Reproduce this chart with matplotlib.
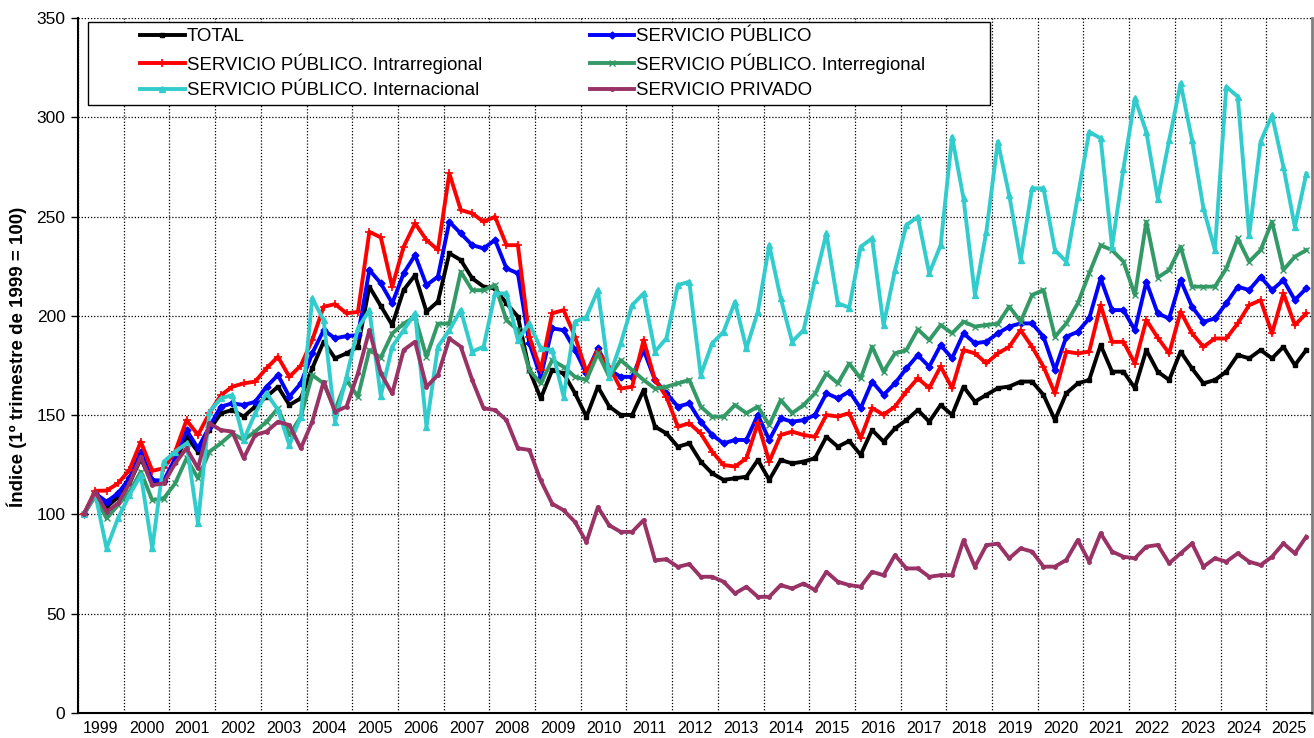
import matplotlib.pyplot as plt
import numpy as np
from matplotlib.patches import Rectangle

plt.rcParams['font.family'] = ['Liberation Sans', 'DejaVu Sans']

# quarterly index, 1999 Q1 .. 2025 Q4 (4 values per line = 1 year)
years = list(range(1999, 2026))

total = [
    100, 110, 103.7, 108.7,
    115.6, 128.2, 115.6, 116.4,
    126.5, 139.1, 131.6, 142.5,
    150.9, 152.6, 149.3, 154.3,
    159.3, 164.3, 155.1, 158.5,
    173.6, 187, 178.6, 181.1,
    184.5, 214.7, 205, 195.4,
    213, 220.5, 202.1, 207.2,
    231.5, 228.1, 218.9, 214.7,
    213.8, 206.3, 199.6, 172.7,
    158.4, 172.7, 171, 161,
    149.2, 164.3, 154.3, 150.1,
    150.1, 162.6, 144.2, 140.8,
    134.1, 135.8, 126.6, 120.7,
    117.4, 118.2, 119, 127.4,
    117.4, 127.4, 125.7, 126.6,
    128.3, 139.1, 134.1, 137,
    130, 142.5, 136.7, 143.3,
    147.5, 152.6, 146.7, 155.1,
    150.1, 164.3, 156.8, 160.2,
    163.6, 164.4, 166.9, 166.9,
    160.2, 147.6, 161, 166,
    167.7, 185.3, 171.9, 171.9,
    163.6, 182.8, 171.9, 167.7,
    182, 173.5, 166, 167.7,
    171.9, 180.3, 178.6, 182.8,
    178.6, 184.4, 175.2, 182.8,
]

publico = [
    100, 110.6, 106.4, 110.6,
    118.2, 131.6, 117.3, 117,
    128.2, 142.5, 133.3, 144.2,
    154.3, 155.9, 155.1, 156.7,
    164.3, 170.2, 159.3, 166,
    181.1, 192.8, 188.7, 189.8,
    190.3, 223.1, 216.4, 206.3,
    221.4, 230.6, 215.5, 219.7,
    247.4, 241.5, 235.6, 234,
    238.2, 223.9, 221.4, 186.2,
    169.3, 193.7, 192.8, 182.8,
    171, 183.6, 172.7, 169.3,
    169.3, 182.8, 167.7, 161,
    154.3, 155.9, 146.7, 140,
    135.8, 137.5, 137.5, 150.1,
    137.5, 148.4, 146.7, 147.5,
    150.1, 161, 158.5, 161.9,
    153.5, 166.9, 160.2, 166,
    173.5, 180.2, 174.4, 185.3,
    178.6, 191.2, 186.2, 187,
    191.2, 194.6, 196.2, 196.2,
    189.5, 172.8, 189.5, 192,
    198.7, 218.9, 202.9, 202.9,
    192.8, 217.1, 201.2, 198.7,
    218, 204.6, 197, 198.7,
    206.3, 214.7, 213, 219.7,
    213, 218, 208, 213.8,
]

intrarregional = [
    100, 111.9, 112, 115.6,
    122.4, 136.6, 122, 123.2,
    131.6, 147.5, 140, 151,
    160, 164.3, 166, 166.9,
    173.6, 179.4, 169.3, 175,
    187.8, 204.6, 205.9, 201.3,
    202, 242.3, 239.5, 214.7,
    234.8, 246.6, 238.2, 233.2,
    271.7, 253.3, 251.6, 247.4,
    249.9, 235.6, 235.6, 189.5,
    172.7, 201.3, 202.9, 189.5,
    171.9, 182, 174.3, 163.4,
    164.3, 187.8, 167.7, 159.3,
    144.2, 145.9, 140.8, 131.6,
    124.9, 124.1, 128.3, 145.9,
    126.6, 140, 141.7, 140,
    139.1, 150.1, 149.3, 151,
    138.4, 153.6, 150.2, 154.3,
    161.9, 168.6, 163.6, 174.5,
    163.6, 182.8, 181.1, 176.1,
    181.1, 184.4, 192.8, 184.4,
    174.4, 161, 182, 181.1,
    182, 205.4, 186.9, 186.9,
    176, 197.9, 189, 181.1,
    202.1, 191.2, 184.4, 188.6,
    188.6, 196.2, 205.4, 207.9,
    191.2, 211.3, 195.4, 201.2,
]

interregional = [
    100, 109, 98, 104.7,
    111.4, 121.5, 107.2, 108,
    115.6, 128.2, 118.2, 131.6,
    135.8, 140.8, 137.5, 141.7,
    146.7, 153.4, 140, 149.2,
    170.2, 166, 152.6, 167.7,
    159.3, 182.8, 179, 191.1,
    196.1, 199.5, 179.3, 196.1,
    196.1, 222.2, 212.9, 212.9,
    215.5, 197.8, 192.8, 172.7,
    166, 177.7, 174.3, 169.3,
    167.7, 181.1, 169.3, 177.7,
    172.7, 167.7, 163.4, 164.3,
    166, 167.7, 154.3, 149.2,
    149.2, 155.1, 151, 154.3,
    145, 157.6, 151, 155.1,
    161, 171, 166, 176,
    168.5, 184.5, 171.9, 181.1,
    182.8, 193.2, 187.8, 195.4,
    191.2, 197.1, 194.6, 195.4,
    196, 204.7, 197.1, 210.5,
    213, 189.5, 196.2, 206.3,
    221.4, 235.6, 233.1, 227.3,
    210.5, 247.4, 219.3, 223.1,
    234.8, 214.7, 214.7, 214.7,
    223.9, 239, 227.3, 233.1,
    247.4, 223.1, 229.8, 233.1,
]

internacional = [
    100, 110.6, 82.9, 98,
    109.8, 119.8, 82.9, 126.5,
    131.6, 135.8, 95.5, 151.7,
    158.4, 160.1, 137.5, 150.9,
    161, 152.6, 135, 149.2,
    208.8, 197.9, 146.7, 169.3,
    193.7, 202.9, 159.7, 184.5,
    192.8, 201.3, 144.2, 184.5,
    192.8, 202.9, 182, 184.5,
    211.3, 211.3, 187.8, 196.2,
    183.6, 182.8, 159.3, 197,
    199.5, 212.9, 169.3, 186.1,
    205.4, 211.3, 182, 188.7,
    215.5, 217.2, 170.2, 186.1,
    192, 207.1, 183.6, 202.1,
    235.6, 208.8, 187, 192.8,
    218, 241.5, 206.3, 204.2,
    234.8, 239, 195.3, 223,
    245.7, 249.9, 221.4, 235.6,
    290.2, 259.2, 210.5, 242.4,
    287.7, 260.8, 228.1, 264.2,
    264.2, 233.1, 227.3, 260,
    292.7, 289.4, 234.8, 274.2,
    309.5, 292.7, 259.1, 288.5,
    317.1, 288.5, 254.1, 233.1,
    315.4, 310.4, 240.7, 287.7,
    301.1, 275, 244.9, 271.6,
]

privado = [
    100, 111.4, 101.4, 105.6,
    115.6, 129.1, 114.8, 115.6,
    125.7, 133.3, 123.2, 145.9,
    142.5, 141.7, 128.3, 140,
    141.7, 146.7, 145, 133.3,
    146.7, 166.8, 151.7, 154.3,
    171, 192.8, 171, 160.9,
    182.8, 187, 164.3, 170.2,
    188.6, 184.5, 167.7, 153.4,
    152.6, 147.5, 133.3, 132.5,
    117.1, 105.4, 102.1, 96.2,
    86.1, 103.7, 94.5, 91.2,
    91.2, 97.1, 76.9, 77.4,
    73.6, 75, 68.6, 68.6,
    66.1, 60.2, 63.6, 58.5,
    58.5, 64.4, 62.7, 65.2,
    61.9, 71.1, 66.1, 64.4,
    63.6, 71.1, 69.4, 79.5,
    72.8, 72.8, 68.6, 69.4,
    69.4, 87, 73.6, 84.5,
    85.3, 77.9, 82.9, 81.3,
    73.7, 73.7, 77.1, 87.1,
    76.2, 90.5, 81.3, 78.7,
    77.9, 83.8, 84.6, 75.4,
    80.4, 85.4, 73.7, 77.9,
    76.2, 80.4, 76.2, 74.5,
    78.7, 85.4, 80.4, 88.8,
]

fig = plt.figure(figsize=(13.14, 7.38), dpi=100)
ax = fig.add_axes([78/1314, 25/738, 1234/1314, 695/738])

x = np.arange(len(total))
lw = 2.8

# same order as the Excel series, later ones drawn on top
l_tot, = ax.plot(x, total, color='black', lw=lw, marker='s', ms=3.5, label='TOTAL')
l_pub, = ax.plot(x, publico, color='#0000ff', lw=lw, marker='D', ms=3.5, label='SERVICIO PÚBLICO')
l_intra, = ax.plot(x, intrarregional, color='#ff0000', lw=lw, marker='+', ms=6, mew=1.2,
                   label='SERVICIO PÚBLICO. Intrarregional')
l_inter, = ax.plot(x, interregional, color='#339966', lw=lw, marker='x', ms=5, mew=1,
                   label='SERVICIO PÚBLICO. Interregional')
l_int, = ax.plot(x, internacional, color='#33cccc', lw=lw, marker='^', ms=4,
                 label='SERVICIO PÚBLICO. Internacional')
l_priv, = ax.plot(x, privado, color='#993366', lw=lw, marker='o', ms=2.5,
                  label='SERVICIO PRIVADO')

ax.set_xlim(-0.5, len(total) - 0.5)
ax.set_ylim(0, 350)

# year boundaries as gridlines, year names centred in between
ax.set_xticks(np.arange(-0.5, len(total), 4))
ax.set_xticklabels([])
ax.set_xticks(np.arange(1.5, len(total), 4), minor=True)
ax.set_xticklabels([str(y) for y in years], minor=True, fontsize=11.5)
ax.tick_params(axis='x', which='both', length=0, pad=6)

ax.set_yticks(range(0, 351, 50))
ax.tick_params(axis='y', labelsize=12.5, length=5, width=1, direction='out', pad=4)

ax.grid(True, which='major', color='black', linestyle=(0, (1, 1.5)), lw=0.9)
ax.set_axisbelow(True)

ax.spines['left'].set_linewidth(1.5)
ax.spines['bottom'].set_linewidth(1.5)
ax.spines['top'].set_visible(False)
ax.spines['right'].set_color('#808080')
ax.spines['right'].set_linewidth(2)

fig.text(0.013, 0.516, 'Índice (1º trimestre de 1999 = 100)', rotation=90,
         va='center', ha='center', fontsize=13.5, fontweight='bold')

# legend box (Excel style, handles start well inside the frame)
box = Rectangle((10/1234, 1 - 87/695), 902/1234, 83/695, transform=ax.transAxes,
                facecolor='white', edgecolor='black', lw=1, zorder=5)
ax.add_patch(box)
handles = [l_tot, l_intra, l_int, l_pub, l_inter, l_priv]
leg = ax.legend(handles, [h.get_label() for h in handles], ncol=2, loc='upper left',
                bbox_to_anchor=(62/1234, 1 - 10/695), frameon=False, fontsize=13.4,
                handlelength=2.4, handletextpad=0.1, columnspacing=5.8,
                labelspacing=0.45, borderaxespad=0, borderpad=0)
leg.set_zorder(6)

plt.savefig('out.png', dpi=100)
